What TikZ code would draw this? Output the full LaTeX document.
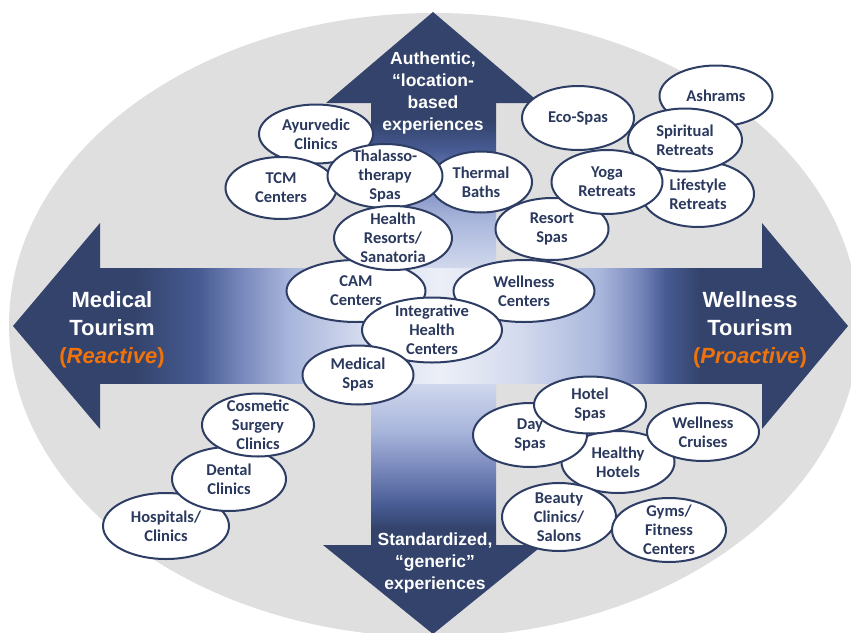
\documentclass[tikz,border=0pt]{standalone}
\usepackage{fontspec}
\usetikzlibrary{shapes.geometric}
\newfontfamily\arialf{Liberation Sans}
\newfontfamily\calf{Carlito}
\definecolor{bggrey}{RGB}{223,223,223}
\definecolor{adark}{RGB}{51,67,107}
\definecolor{amid}{RGB}{72,92,148}
\definecolor{hA}{RGB}{118,134,186}
\definecolor{hB}{RGB}{169,182,220}
\definecolor{hC}{RGB}{211,218,238}
\definecolor{hD}{RGB}{236,239,247}
\definecolor{bubline}{RGB}{46,61,100}
\definecolor{bubtext}{RGB}{43,57,94}
\definecolor{aorange}{RGB}{240,115,10}
\pgfdeclarehorizontalshading{hshaft}{100bp}{color(0bp)=(adark); color(25bp)=(adark); color(27.64bp)=(adark); color(32.55bp)=(amid); color(35.57bp)=(hA); color(39.35bp)=(hB); color(44.64bp)=(hC); color(50.68bp)=(hD); color(56.72bp)=(hC); color(62.76bp)=(hB); color(65.78bp)=(hA); color(67.67bp)=(amid); color(70.32bp)=(adark); color(75bp)=(adark); color(100bp)=(adark)}
\pgfdeclareverticalshading{vshaft}{100bp}{color(0bp)=(adark); color(25bp)=(adark); color(26.92bp)=(adark); color(29.52bp)=(amid); color(33.48bp)=(hA); color(38bp)=(hB); color(43.66bp)=(hC); color(49.32bp)=(hD); color(56.1bp)=(hC); color(61.76bp)=(hB); color(66.29bp)=(hA); color(69.68bp)=(amid); color(72.85bp)=(adark); color(75bp)=(adark); color(100bp)=(adark)}
\tikzset{
  bub/.style={ellipse, draw=bubline, line width=2pt, fill=white, inner sep=0pt},
  bubtxt/.style={align=center, text=bubtext, inner sep=0pt, font=\calf\bfseries\fontsize{16.5}{19}\selectfont},
  arrtxt/.style={align=center, text=white, inner sep=0pt},
  bigfont/.style={font=\arialf\bfseries\fontsize{22}{28}\selectfont},
  smallfont/.style={font=\arialf\bfseries\fontsize{17.5}{22}\selectfont},
  headfill/.style={fill=adark}
}
\newcommand\mybub[6]{\node[bub, minimum width=#4pt, minimum height=#5pt, label={[bubtxt, name=#1t]center:{#6}}] (#1) at (#2,#3) {};}
\begin{document}
\begin{tikzpicture}[x=1pt,y=-1pt]
\useasboundingbox (0,0) rectangle (851,632);
\clip (0,0) rectangle (851,632);
\fill[bggrey] (434,325) ellipse [x radius=425pt, y radius=312pt];
% shafts
\shade[shading=vshaft] (371,103) rectangle (496,545);
\shade[shading=hshaft] (100,268) rectangle (762,383);
% heads
\fill[headfill] (100,223) -- (13,326) -- (100,429) -- cycle;
\fill[headfill] (762,223) -- (848,326) -- (762,429) -- cycle;
\fill[headfill] (326,103) -- (433,12) -- (540,103) -- cycle;
\fill[headfill] (323,545) -- (433,634) -- (543,545) -- cycle;
% arrow texts
\node[arrtxt, bigfont] (med) at (112,330) {Medical\\Tourism\\{\color{aorange}(\textit{Reactive})}};
\node[arrtxt, bigfont] (wel) at (750,330) {Wellness\\Tourism\\{\color{aorange}(\textit{Proactive})}};
\node[arrtxt, smallfont] (auth) at (433,93) {Authentic,\\“location-\\based\\experiences};
\node[arrtxt, smallfont] (std) at (435,563) {Standardized,\\“generic”\\experiences};
% bubbles
\mybub{therm}{481}{182}{102}{61}{Thermal\\Baths}
\mybub{ayur}{316}{134}{114}{59}{Ayurvedic\\Clinics}
\mybub{tcm}{281}{188}{111}{62}{TCM\\Centers}
\mybub{thal}{385}{176}{115}{64}{Thalasso-\\therapy\\Spas}
\mybub{cam}{356}{291}{139}{62}{CAM\\Centers}
\mybub{wcen}{524}{291}{141}{62}{Wellness\\Centers}
\mybub{hres}{393}{238}{118}{64}{Health\\Resorts/\\Sanatoria}
\mybub{integ}{432}{330}{140}{65}{Integrative\\Health\\Centers}
\mybub{medspa}{358}{375}{111}{59}{Medical\\Spas}
\mybub{ashram}{716}{96}{113}{61}{Ashrams}
\mybub{life}{698}{194}{112}{66}{Lifestyle\\Retreats}
\mybub{spirit}{685}{140}{114}{63}{Spiritual\\Retreats}
\mybub{eco}{578}{118}{112}{64}{Eco-Spas}
\mybub{resort}{552}{229}{113}{62}{Resort\\Spas}
\mybub{yoga}{607}{182}{111}{64}{Yoga\\Retreats}
\mybub{healthy}{618}{462}{113}{62}{Healthy\\Hotels}
\mybub{day}{530}{435}{114}{64}{Day\\Spas}
\mybub{hotel}{590}{405}{112}{57}{Hotel\\Spas}
\mybub{cruise}{703}{432}{112}{58}{Wellness\\Cruises}
\mybub{beauty}{559}{517}{114}{68}{Beauty\\Clinics/\\Salons}
\mybub{gym}{669}{530}{114}{64}{Gyms/\\Fitness\\Centers}
\mybub{hosp}{166}{526}{126}{66}{Hospitals/\\Clinics}
\mybub{dental}{229}{479}{114}{64}{Dental\\Clinics}
\mybub{cosm}{258}{425}{112}{63}{Cosmetic\\Surgery\\Clinics}
\end{tikzpicture}
\end{document}
